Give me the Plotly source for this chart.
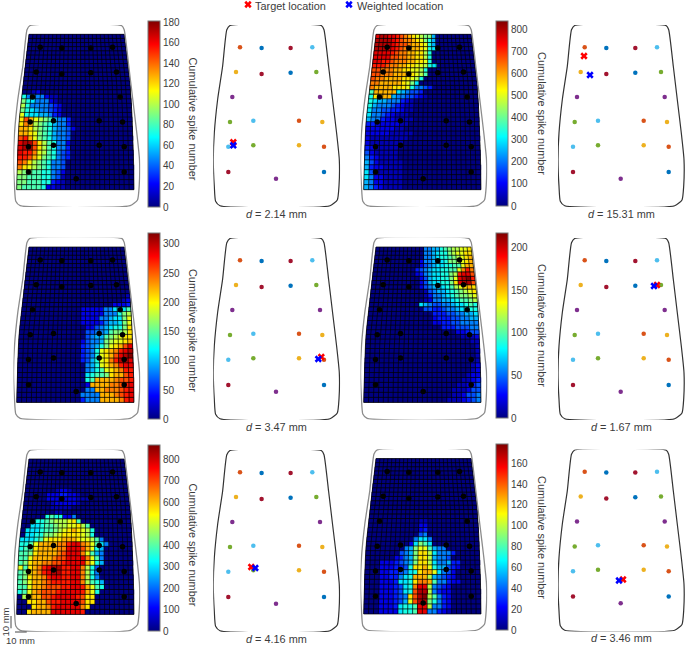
import numpy as np
import plotly.graph_objects as go

W, H = 685, 645
FONT = "Liberation Sans"
TEXT = "#3c3c3c"

# spike maps, one char per electrode: 0-9a-k = 0..100 % of the panel's colour range, 5 % steps
LEVELS = "0123456789abcdefghijk"
MAP_A = [""] * 13 + [
    "0012", "85555211", "a8755521", "b85555432", "a87655432", "c87766532",
    "dgecba96553", "dfeba986553", "eedba9865542", "eedca986554",
    "gheca986554", "ijjgdb98552", "ijjgdb98553", "ihhfcb98543", "hhgeca98543",
    "gfdba98554", "fdcba98554", "baa9988542", "aa99988541", "aa99988321", "a999982211",
]
MAP_B = [
    "ijjiihgfedcbaa6", "jjjjihgffedca86", "jjjjihggfeedc86", "jjjiihgffeedc87", "iiiihgffeeddb8",
    "iiiiggffeeddb8", "iihhgfffeeddc8", "hhhgffeeddccb87", "ggfffeeddccb8", "ggfffeeeddcb9",
    "gffeeeeddcb8", "ffeeeeedca7", "feeeedddc85543", "9eeeee765443", "8deee65544321",
    "8766555321", "8655543211", "7554433211", "755432111", "6553221111",
    "332222211", "22222211", "2222211111", "211111111", "21111111",
    "3211111", "4211111", "5321111", "64211111", "63221111", "74211111", "75221111", "65221111", "65321111",
]
MAP_C = [""] * 11 + [
    "1", "12", "2223", "22222557779", "222225558ab", "222255677ac", "222235667ac",
    "22456788ad", "445569aabd", "45669abcdd", "24556abccde", "34568acdegi",
    "3458cdefhij", "3458cdegijk", "3468cdfhjji", "568cdefhii", "5689cdefhh", "7899adeegh",
    "89eeeefggh", "2eeeeffghi", "55eefffghi", "5555eeefghi", "3555eeeefhi",
]
MAP_D = [
    "556689abbccd", "556788abccdd", "5567889abcde", "2556778aabcde", "2456778899cee", "3456778899cfhf",
    "23567788abhiig", "2467788acijkh", "2467788adijjg", "24566789bcded", "14566789abcd", "13556789aabc",
    "1255667899ab", "7654455677898", "443345567788", "3334455667", "2333445566", "2233445555",
    "33344455", "22344", "1112", "11", "1", "1", "1", "11", "12", "12", "122", "1123", "11234", "111244", "112445", "1112345",
]
MAP_E = [""] * 7 + [
    "000000012210", "0000022233221", "000002222222111", "0000001222221", "00000011111", "000000011",
    "000008988225", "000889abbbcd9", "0077899abbccdb9", "0777899abcdedcb8", "07788aabcddddcb8",
    "77789cdddeeedccb95", "889ceeeeffhiifec975", "899deeeeffiiigec86", "99adeeeefgiiifc965", "99ceeeefggiiiifc95",
    "9adeeffgghiiiiec86", "c9defhijjhhiifb84", "9adefhijjhhiifb85", "9adeefhiihhiifb85", "9aceefghhhhiifb986",
    "99ceefggghhiihec98", "89cefggghiiiihec8", "0bdeegghiiiihgdd", "00ddeeghhiiiigdd", "000deefhiiiiifd", "00deeeeiiiiiih",
]
MAP_F = [""] * 14 + [
    "0000000000011", "0000000000022", "0000000000023", "0000000000045", "00000000005775", "00000000027a97",
    "0000000056acc9655", "0000000456addb75553", "0000002356addb6554", "0002223456addb755633",
    "0002223348ddec866432", "00022334578deec7542", "0002233578eeeb65432", "0002223778dffe955322",
    "0002223478fiib5432", "0002223478gjjb5322", "000222345dgjkb9532", "000222346cgjja8532",
    "00022237889iib5532", "00022227889ii55321",
]
ALIGN = ["left", "left", "right", "right", "left", "left"]
SPIKE_MAPS = [MAP_A, MAP_B, MAP_C, MAP_D, MAP_E, MAP_F]
CMAX = [181, 840, 318, 217, 866, 178.5]
DTICK = [20, 100, 50, 50, 100, 20]
DISTANCES = ["2.14", "15.31", "3.47", "1.67", "4.16", "3.46"]

# electrode layout, same for all panels
ELEC_X = [26.7, 48.3, 77.3, 99, 22.7, 48.3, 77.3, 103, 19, 106.7, 16.7, 40, 85.7, 109, 15, 40, 85.7, 110.7, 15, 62.7, 110.7]
ELEC_Y = [22.3, 23, 23, 22.3, 47, 49, 47.7, 47, 72, 72, 97, 95.7, 95.7, 97, 121.7, 120.3, 120.3, 121.7, 147, 153.7, 147]
ELEC_COL = ["#D95319", "#0072BD", "#A2142F", "#4DBEEE", "#EDB120", "#A2142F", "#0072BD", "#77AC30", "#7E2F8E", "#7E2F8E",
            "#77AC30", "#4DBEEE", "#D95319", "#EDB120", "#4DBEEE", "#77AC30", "#EDB120", "#D95319", "#A2142F", "#7E2F8E", "#0072BD"]

TARGET_X = [20, 26, 108, 99, 38, 65]
TARGET_Y = [117.3, 31, 119, 47, 117, 130]
WEIGHTED_X = [20, 32, 105, 96, 42, 61]
WEIGHTED_Y = [120.3, 50, 121, 48, 118, 131]

# array outline
OUT_X = [16.7, 13.5, 9.3, 4.3, 1, 0, 1, 2.3, 6.7, 116.7, 124, 125.7, 126, 123.3, 119.3, 115.3, 110.7, 108.3, 16.7]
OUT_Y = [0.5, 4.7, 41.3, 74.7, 108, 134.7, 161.3, 176.3, 180.7, 180.7, 175, 161, 134.7, 108, 74.7, 41.3, 4.7, 0.7, 0.5]

# warped grid edge of the 24 x 34 electrode map
GRID_Y = [9.3, 41.7, 71.7, 96.7, 130, 164.7]
GRID_L = [15.5, 11.5, 8.2, 5.5, 3.9, 3.2]
GRID_R = [110.5, 115, 117.6, 118.8, 120, 120.5]
N_COL, N_ROW = 24, 34

# panel positions in page pixels
HEAT_POS = [(13.5, 25), (360.5, 25), (13.5, 237.7), (360.5, 237.7), (13.5, 449.7), (360.5, 449.3)]
DOT_POS = [(213.3, 25), (558, 25), (213.3, 238), (558, 238), (213.3, 450), (558, 449.5)]
CBAR_POS = [(148, 21, 186), (496, 21, 185), (148, 233.3, 186), (496, 233, 185), (148, 445, 186), (496, 444, 186)]
CBAR_TITLE_POS = [(193, 118.5), (541.7, 113.8), (193, 330), (541.7, 325.8), (193, 544.5), (541.7, 537.8)]

PW, PH = 127, 182
JET = [[0, "#000080"], [0.125, "#0000ff"], [0.375, "#00ffff"], [0.625, "#ffff00"], [0.875, "#ff0000"], [1, "#800000"]]

fig = go.Figure()
layout = {}


def add_axes(n, left, top, w, h):
    layout[f"xaxis{n}"] = dict(domain=[left / W, min((left + w) / W, 1)], range=[0, w], visible=False, anchor=f"y{n}", fixedrange=True)
    layout[f"yaxis{n}"] = dict(domain=[1 - (top + h) / H, 1 - top / H], range=[h, 0], visible=False, anchor=f"x{n}", fixedrange=True)


def outline(n, color, width):
    fig.add_trace(go.Scatter(x=OUT_X, y=OUT_Y, mode="lines", line=dict(color=color, width=width, shape="spline", smoothing=0.5),
                             xaxis=f"x{n}", yaxis=f"y{n}", hoverinfo="skip", showlegend=False))


# row heights grow towards the bottom of the array
heights = np.linspace(4.1, 5.05, N_ROW)
y_edges = GRID_Y[0] + np.concatenate([[0], np.cumsum(heights)]) * (GRID_Y[-1] - GRID_Y[0]) / heights.sum()
x_left = np.interp(y_edges, GRID_Y, GRID_L)
x_right = np.interp(y_edges, GRID_Y, GRID_R)

add_axes(14, 0, 0, W, H)

# dark backing under the heatmaps so rounding gaps between rows don't show white
back_pts = list(zip(x_left, y_edges)) + list(zip(x_right[::-1], y_edges[::-1]))
back_path = "M " + " L ".join(f"{a:.2f},{b:.2f}" for a, b in back_pts) + " Z"

for p, rows in enumerate(SPIKE_MAPS):
    n = p + 2
    add_axes(n, HEAT_POS[p][0], HEAT_POS[p][1], PW, PH)
    fig.add_shape(type="path", path=back_path, xref=f"x{n}", yref=f"y{n}", fillcolor="#000020", line=dict(width=0), layer="below")
    for r, row in enumerate(rows):
        row = row.rjust(N_COL, "0") if ALIGN[p] == "right" else row.ljust(N_COL, "0")
        z = [LEVELS.index(c) * 0.05 * CMAX[p] for c in row[:N_COL]]
        mid_l = (x_left[r] + x_left[r + 1]) / 2
        mid_r = (x_right[r] + x_right[r + 1]) / 2
        fig.add_trace(go.Heatmap(z=[z], x=np.linspace(mid_l, mid_r, N_COL + 1), y=[y_edges[r], y_edges[r + 1]],
                                 coloraxis=f"coloraxis{p + 1}" if p else "coloraxis", xaxis=f"x{n}", yaxis=f"y{n}", hoverinfo="skip"))

    # black grid lines on top of the cells
    gx, gy = [], []
    for r in range(N_ROW + 1):
        gx += [x_left[r], x_right[r], None]
        gy += [y_edges[r], y_edges[r], None]
    for c in range(N_COL + 1):
        gx += list(x_left + (x_right - x_left) * c / N_COL) + [None]
        gy += list(y_edges) + [None]
    fig.add_trace(go.Scatter(x=gx, y=gy, mode="lines", line=dict(color="black", width=0.7),
                             xaxis=f"x{n}", yaxis=f"y{n}", hoverinfo="skip", showlegend=False))
    outline(n, "#8c8c8c", 1.3)
    fig.add_trace(go.Scatter(x=ELEC_X, y=ELEC_Y, mode="markers", marker=dict(color="black", size=5.5),
                             xaxis=f"x{n}", yaxis=f"y{n}", hoverinfo="skip", showlegend=False))

    cb_x, cb_y, cb_len = CBAR_POS[p]
    layout["coloraxis" + (str(p + 1) if p else "")] = dict(
        cmin=0, cmax=CMAX[p], colorscale=JET,
        colorbar=dict(x=cb_x / W, xanchor="left", y=1 - (cb_y + cb_len) / H, yanchor="bottom",
                      len=cb_len, lenmode="pixels", thickness=12, thicknessmode="pixels",
                      xpad=0, ypad=0, tick0=0, dtick=DTICK[p], ticks="", outlinecolor="#777777", outlinewidth=1,
                      tickfont=dict(family=FONT, size=10, color=TEXT)))
    fig.add_annotation(x=CBAR_TITLE_POS[p][0], y=CBAR_TITLE_POS[p][1], xref="x14", yref="y14", text="Cumulative spike number",
                       textangle=90, showarrow=False, font=dict(family=FONT, size=10.9, color=TEXT))

for p in range(6):
    n = p + 8
    add_axes(n, DOT_POS[p][0], DOT_POS[p][1], PW, PH)
    outline(n, "#333333", 1.2)
    fig.add_trace(go.Scatter(x=ELEC_X, y=ELEC_Y, mode="markers", marker=dict(color=ELEC_COL, size=4.5),
                             xaxis=f"x{n}", yaxis=f"y{n}", hoverinfo="skip", showlegend=False))
    fig.add_trace(go.Scatter(x=[TARGET_X[p]], y=[TARGET_Y[p]], mode="markers", marker=dict(color="#ff0000", size=6.5, symbol="x", line=dict(width=0)),
                             xaxis=f"x{n}", yaxis=f"y{n}", hoverinfo="skip", showlegend=False))
    fig.add_trace(go.Scatter(x=[WEIGHTED_X[p]], y=[WEIGHTED_Y[p]], mode="markers", marker=dict(color="#0000ff", size=6.5, symbol="x", line=dict(width=0)),
                             xaxis=f"x{n}", yaxis=f"y{n}", hoverinfo="skip", showlegend=False))
    fig.add_annotation(x=DOT_POS[p][0] + 63.5, y=DOT_POS[p][1] + 188.5, xref="x14", yref="y14", text=f"<i>d</i> = {DISTANCES[p]} mm",
                       showarrow=False, font=dict(family=FONT, size=10.9, color=TEXT))

# page layer: key and scale bars
fig.add_trace(go.Scatter(x=[248, 349], y=[4.5, 4.5], mode="markers",
                         marker=dict(color=["#ff0000", "#0000ff"], size=6.5, symbol="x", line=dict(width=0)),
                         xaxis="x14", yaxis="y14", hoverinfo="skip", showlegend=False))
fig.add_trace(go.Scatter(x=[255, 357], y=[7, 7], mode="text", text=["Target location", "Weighted location"], textposition="middle right",
                         textfont=dict(family=FONT, size=10.9, color=TEXT), xaxis="x14", yaxis="y14", hoverinfo="skip", showlegend=False))
fig.add_trace(go.Scatter(x=[11, 11, None, 15, 26.7], y=[616, 628.3, None, 632, 632], mode="lines", line=dict(color="#333333", width=0.9),
                         xaxis="x14", yaxis="y14", hoverinfo="skip", showlegend=False))
fig.add_annotation(x=4.5, y=622, xref="x14", yref="y14", text="10 mm", textangle=-90, showarrow=False, font=dict(family=FONT, size=9.5, color=TEXT))
fig.add_annotation(x=20.5, y=640, xref="x14", yref="y14", text="10 mm", showarrow=False, font=dict(family=FONT, size=9.5, color=TEXT))

fig.update_layout(width=W, height=H, autosize=False, margin=dict(l=0, r=0, t=0, b=0),
                  paper_bgcolor="white", plot_bgcolor="rgba(0,0,0,0)", showlegend=False, **layout)

fig.write_html("out.html", config=dict(displayModeBar=False), post_script="document.body.style.margin='0';")
